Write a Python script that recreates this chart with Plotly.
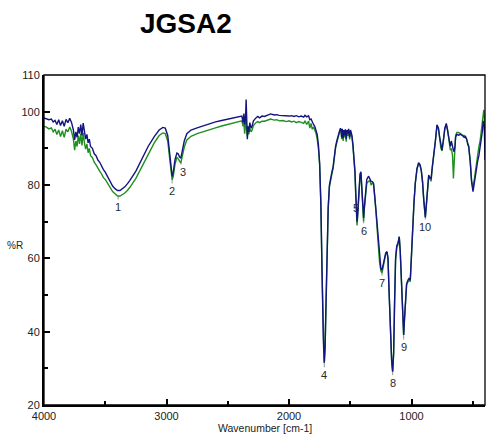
import plotly.graph_objects as go

WAVENUMBER = [4000,3980,3960,3940,3925,3910,3895,3880,3865,3850,3835,3820,3805,3790,3775,3760,3750,3740,3730,3720,
3710,3700,3690,3680,3670,3660,3650,3640,3630,3620,3605,3590,3575,3560,3545,3530,3515,3500,3485,3470,
3455,3440,3420,3400,3380,3360,3340,3320,3300,3250,3200,3150,3100,3060,3030,3010,2990,2975,2962,2954,
2945,2930,2915,2905,2893,2883,2870,2855,2834,2800,2750,2700,2650,2600,2550,2500,2450,2400,2385,2375,
2368,2362,2355,2350,2345,2340,2335,2328,2320,2310,2303,2290,2270,2255,2240,2220,2200,2180,2150,2120,
2100,2080,2050,2020,2000,1980,1960,1940,1920,1900,1880,1870,1855,1840,1830,1820,1810,1800,1790,1780,
1770,1760,1750,1740,1730,1720,1712,1705,1700,1690,1680,1670,1660,1650,1640,1630,1620,1610,1600,1590,
1580,1575,1570,1565,1558,1552,1546,1540,1533,1527,1520,1513,1505,1498,1492,1486,1478,1470,1462,1455,
1450,1445,1440,1432,1420,1413,1405,1398,1391,1385,1375,1365,1350,1340,1330,1320,1310,1300,1290,1280,
1270,1260,1250,1241,1232,1220,1210,1200,1192,1182,1172,1162,1154,1146,1138,1130,1120,1112,1105,1100,
1092,1085,1078,1070,1064,1058,1050,1040,1030,1020,1010,1000,990,980,969,955,942,930,920,910,
900,887,878,868,860,850,840,830,819,805,792,780,770,760,751,740,728,716,705,695,
683,675,665,658,652,645,640,630,615,600,585,570,560,550,540,533,520,510,498,490,
480,470,460,450,440,430,425,420,415,410,406,403,400]

BLUE = [98.3,98.0,97.8,98.0,97.2,97.6,96.5,97.8,96.2,97.5,96.0,97.9,97.0,98.2,97.0,95.0,92.3,94.5,93.0,95.8,
94.0,96.5,93.5,96.9,94.0,92.5,93.8,91.5,92.5,90.5,90.0,88.5,88.0,86.8,86.2,85.0,84.2,83.5,82.5,81.5,
80.5,79.7,79.0,78.5,78.5,78.9,79.5,80.3,81.2,83.8,87.0,90.5,93.2,95.0,95.7,95.5,93.5,89.0,84.0,82.4,
83.5,87.0,88.7,88.5,87.6,87.3,89.5,92.0,94.0,95.0,95.6,96.2,96.8,97.2,97.6,98.0,98.3,98.7,98.8,97.0,
99.5,96.5,98.0,103.3,97.0,92.5,96.0,94.5,97.0,95.5,95.9,97.5,98.3,98.7,98.3,98.8,98.7,99.0,99.4,99.1,
99.2,99.0,98.9,98.9,98.8,98.9,98.7,98.9,98.6,98.8,98.5,99.0,98.6,98.9,97.8,98.0,97.0,96.5,96.0,95.0,
93.8,91.0,86.0,75.0,55.0,38.0,31.5,36.0,45.0,62.0,74.0,80.0,82.5,83.5,85.0,88.0,90.5,92.0,93.5,94.5,
95.5,95.0,93.0,95.3,92.8,95.0,93.5,95.2,92.5,95.0,94.0,95.3,93.0,95.0,94.3,93.5,91.0,88.0,84.0,78.0,
73.0,70.0,72.0,78.0,83.0,83.6,80.0,75.0,71.0,74.0,79.0,81.5,82.4,81.5,81.0,80.9,80.5,77.0,73.0,68.0,
63.0,59.0,57.2,56.8,58.0,60.0,61.5,61.8,60.0,50.0,40.0,32.0,29.1,34.0,48.0,60.0,63.5,64.0,65.0,65.9,
62.0,55.0,47.0,41.0,39.1,43.0,49.0,53.0,54.0,54.5,54.1,62.0,70.0,75.0,80.5,84.5,86.1,85.5,84.0,81.0,
76.0,71.3,75.0,81.0,82.7,82.0,81.8,85.0,87.7,92.0,96.4,95.5,93.0,90.5,89.5,92.0,95.5,96.8,95.0,93.0,
90.5,92.0,90.0,89.5,89.1,90.5,93.0,93.8,93.6,93.8,93.5,93.0,93.2,92.5,91.0,90.5,86.0,81.0,78.2,80.0,
83.0,85.0,86.5,88.0,90.0,93.0,94.1,95.0,97.5,96.0,96.4,92.0,86.8]

GREEN = [96.0,95.8,95.3,95.6,94.5,95.2,93.8,95.0,93.2,94.8,93.0,95.2,94.5,95.8,94.6,92.5,89.5,92.0,90.5,93.5,
91.2,94.0,90.8,94.2,91.5,89.8,91.2,88.8,90.0,88.0,87.5,86.2,85.5,84.5,83.8,83.0,82.0,81.5,80.6,79.8,
78.8,78.2,77.6,77.0,77.0,77.3,77.8,78.5,79.3,81.8,85.0,88.6,91.5,93.5,94.2,94.0,92.0,87.5,83.0,81.4,
82.3,85.8,87.5,87.2,86.5,86.0,88.0,90.3,92.3,93.3,94.0,94.6,95.2,95.6,96.1,96.5,96.9,97.3,97.5,96.0,
97.0,94.0,96.5,98.0,95.0,93.2,95.0,93.8,95.5,94.5,94.8,96.2,97.0,97.3,97.0,97.4,97.4,97.7,98.0,97.7,
97.8,97.5,97.6,97.3,97.5,97.2,97.4,97.0,97.3,97.1,96.8,97.5,96.5,97.4,95.5,96.8,95.2,95.8,94.8,94.2,
92.5,90.0,85.5,74.8,55.0,38.0,31.5,36.0,45.0,61.5,73.5,79.5,82.0,83.0,84.5,87.5,90.0,91.5,93.0,94.0,
95.0,94.8,92.5,95.0,92.0,94.6,93.0,95.0,91.8,94.8,93.4,95.0,92.4,94.6,93.8,93.0,90.5,87.5,83.5,77.0,
72.0,69.0,71.0,77.5,82.5,83.3,79.5,74.5,70.0,73.5,78.5,80.5,81.0,81.2,80.0,80.5,80.2,76.8,72.8,67.8,
62.8,58.6,56.6,56.0,57.5,59.8,61.3,61.8,60.0,50.0,40.0,32.0,29.1,34.0,48.0,59.5,63.0,63.5,64.8,65.9,
62.0,55.0,47.0,41.0,39.1,43.0,49.0,52.8,53.5,54.0,53.8,62.0,70.0,75.0,80.5,84.3,85.8,85.3,83.8,80.8,
75.8,71.0,74.8,80.5,82.0,81.8,81.0,84.8,87.5,92.0,96.2,95.3,92.8,90.0,89.3,92.0,95.3,96.5,95.0,92.5,
89.5,90.0,88.0,81.8,86.0,89.5,93.5,94.3,94.3,94.0,93.6,93.5,93.2,92.5,91.2,90.5,86.5,81.5,79.0,81.0,
84.0,86.5,88.5,90.5,92.0,95.0,96.5,98.0,99.5,100.5,99.0,97.0,95.0]

PEAK_LABELS = ["1", "2", "3", "4", "6", "7", "8", "9", "10"]
PEAK_WN = [3395, 2954, 2883, 1712, 1391, 1241, 1154, 1064, 887]
PEAK_R = [77.0, 81.4, 86.0, 31.5, 70.0, 56.0, 29.1, 39.1, 71.0]
PEAK_AY = [11, 11, 9, 12, 9, 10, 11, 12, 9]
PEAK_AX = [0, 0, 2, 0, 0, 0, 0, 0, 0]
LABEL5 = ("5", 1451, 73.7)

X_TICKS = [4000, 3000, 2000, 1000, 400]
X_MINOR = [3500, 2500, 1500, 500]
Y_TICKS = [20, 40, 60, 80, 100, 110]
Y_MINOR = [30, 50, 70, 90]

FONT = "Arial, Liberation Sans, sans-serif"

fig = go.Figure()
fig.add_trace(go.Scatter(x=WAVENUMBER, y=GREEN, mode="lines",
                         line=dict(color="#1f8f1f", width=1.4), showlegend=False))
fig.add_trace(go.Scatter(x=WAVENUMBER, y=BLUE, mode="lines",
                         line=dict(color="#14147f", width=1.4), showlegend=False))

for lab, wn, r, ay, ax in zip(PEAK_LABELS, PEAK_WN, PEAK_R, PEAK_AY, PEAK_AX):
    fig.add_annotation(x=wn, y=r, text=lab, showarrow=True, arrowhead=0,
                       arrowwidth=0.8, arrowcolor="#777", ax=ax, ay=ay,
                       standoff=0, startstandoff=0,
                       font=dict(family=FONT, size=11, color="#2a2a2a"))
fig.add_annotation(x=LABEL5[1], y=LABEL5[2], text=LABEL5[0], showarrow=False,
                   xanchor="center", yanchor="middle",
                   font=dict(family=FONT, size=11, color="#2a2a2a"))

fig.add_annotation(xref="paper", yref="paper", x=(186 - 44) / 441, y=1 + (75 - 23) / 330,
                   xanchor="center", yanchor="middle",
                   text="<b>JGSA2</b>", showarrow=False,
                   font=dict(family=FONT, size=28, color="black"))
fig.add_annotation(xref="paper", yref="paper", x=(265 - 44) / 441, y=-(428 - 405) / 330,
                   xanchor="center", yanchor="middle",
                   text="Wavenumber [cm-1]", showarrow=False,
                   font=dict(family=FONT, size=10.5, color="#222"))
fig.add_annotation(xref="paper", yref="paper", x=(15 - 44) / 441, y=(405 - 245) / 330,
                   xanchor="center", yanchor="middle",
                   text="%R", showarrow=False,
                   font=dict(family=FONT, size=10, color="#222"))

fig.add_shape(type="rect", xref="paper", yref="paper", x0=0, x1=1, y0=0, y1=1,
              line=dict(color="black", width=1.3), layer="above")

fig.update_xaxes(range=[4000, 400], tickmode="array", tickvals=X_TICKS,
                 ticktext=[str(v) for v in X_TICKS], ticks="inside", ticklen=6,
                 tickwidth=1.5, tickcolor="black", showline=True, linecolor="black",
                 linewidth=2, showgrid=False, zeroline=False,
                 tickfont=dict(family=FONT, size=11, color="#222"),
                 minor=dict(tickvals=X_MINOR, ticks="inside", ticklen=4,
                            tickwidth=1.5, tickcolor="black", showgrid=False))
fig.update_yaxes(range=[20, 110], tickmode="array", tickvals=Y_TICKS,
                 ticktext=[str(v) for v in Y_TICKS], ticks="inside", ticklen=6,
                 tickwidth=1.5, tickcolor="black", showline=True, linecolor="black",
                 linewidth=2, showgrid=False, zeroline=False,
                 tickfont=dict(family=FONT, size=11, color="#222"),
                 minor=dict(tickvals=Y_MINOR, ticks="inside", ticklen=4,
                            tickwidth=1.5, tickcolor="black", showgrid=False))

fig.update_layout(width=494, height=434, margin=dict(l=44, r=9, t=75, b=29),
                  plot_bgcolor="white", paper_bgcolor="white", showlegend=False)

fig.write_html("out.html")
